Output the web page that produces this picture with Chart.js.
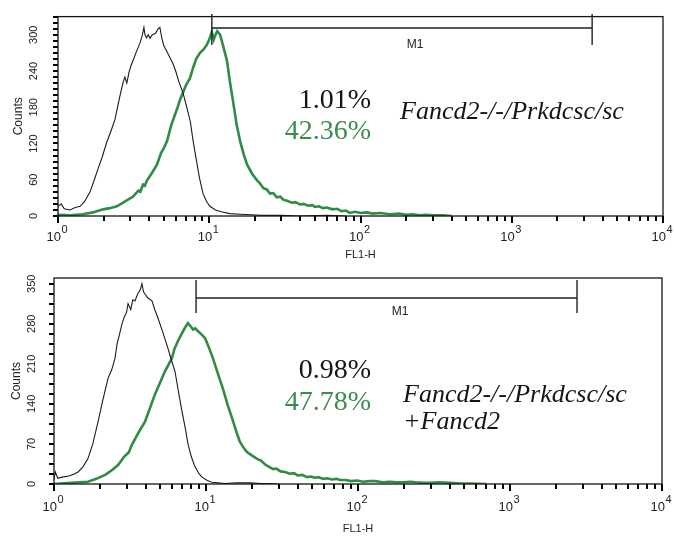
<!DOCTYPE html>
<html>
<head>
<meta charset="utf-8">
<script src="https://cdn.jsdelivr.net/npm/chart.js@4.4.1/dist/chart.umd.min.js"></script>
<style>
html, body { margin: 0; padding: 0; background: #fff; }
#wrap { position: relative; width: 674px; height: 536px; }
canvas { position: absolute; left: 0; }
</style>
</head>
<body>
<div id="wrap">
  <canvas id="topChart" width="674" height="262" style="top:0"></canvas>
  <canvas id="bottomChart" width="674" height="274" style="top:262px"></canvas>
</div>
<script>
// FL1-H channel values (x) and counts (y)
const topBlackX = [1.0, 1.05, 1.1, 1.2, 1.3, 1.4, 1.5, 1.63, 1.75, 1.85, 1.95, 2.1, 2.25, 2.38, 2.5, 2.6, 2.7, 2.77, 2.85, 2.95, 3.05, 3.13, 3.3, 3.48, 3.6, 3.7, 3.76, 3.85, 3.95, 4.06, 4.2, 4.4, 4.6, 4.72, 4.85, 5.0, 5.1, 5.3, 5.5, 5.76, 6.0, 6.3, 6.7, 7.1, 7.5, 7.8, 8.2, 8.6, 9.1, 9.6, 10.1, 11, 12, 13.7, 16, 19, 22, 30, 40, 60, 80];
const topBlackY = [16, 20, 12, 10, 14, 16, 24, 40, 62, 80, 96, 122, 142, 160, 185, 205, 222, 230, 220, 238, 250, 257, 272, 286, 298, 312, 300, 295, 300, 294, 300, 302, 310, 312, 295, 282, 278, 270, 262, 252, 240, 222, 204, 180, 156, 126, 94, 64, 37, 24, 16, 10, 7, 4, 3, 2, 1, 1, 0, 1, 0];

const topGreenX = [1.0, 1.2, 1.46, 1.7, 1.99, 2.2, 2.45, 2.7, 2.9, 3.13, 3.4, 3.5, 3.65, 3.75, 3.88, 4.2, 4.51, 4.8, 5.0, 5.26, 5.6, 5.9, 6.12, 6.4, 6.7, 7.0, 7.46, 7.81, 8.2, 8.69, 9.2, 9.67, 10.0, 10.4, 10.7, 11.0, 11.3, 11.8, 12.4, 13.1, 13.7, 14.4, 15.2, 16.0, 16.9, 17.8, 19.2, 20.7, 21.5, 22.8, 24, 25.2, 26.5, 28, 29.5, 30.8, 33, 35, 37, 39.8, 42, 45, 48, 50, 53, 56.5, 60, 65, 70, 75, 80, 85, 92, 100, 110, 120, 135, 157, 180, 200, 220, 247, 270, 300, 350, 400];
const topGreenY = [2, 1, 3, 6, 11, 13, 16, 22, 27, 32, 42, 40, 52, 50, 59, 72, 85, 104, 112, 124, 150, 166, 177, 192, 204, 216, 228, 245, 260, 270, 276, 284, 292, 305, 292, 300, 306, 300, 280, 257, 222, 188, 150, 124, 102, 85, 70, 59, 55, 46, 44, 37, 38, 31, 32, 27, 25, 22, 23, 19, 20, 17, 18, 15, 16, 13, 14, 11, 12, 8, 9, 5, 7, 5, 6, 4, 5, 3, 4, 2, 3, 1, 2, 1, 1, 0];

const bottomBlackX = [1.0, 1.02, 1.06, 1.13, 1.25, 1.35, 1.44, 1.55, 1.67, 1.8, 1.95, 2.1, 2.27, 2.4, 2.52, 2.6, 2.7, 2.8, 2.9, 3.0, 3.07, 3.2, 3.3, 3.41, 3.55, 3.7, 3.79, 3.88, 3.97, 4.15, 4.41, 4.6, 4.83, 5.2, 5.62, 5.9, 6.25, 6.6, 6.95, 7.3, 7.61, 8.0, 8.47, 9.0, 9.41, 10.2, 10.9, 12, 13.3, 16, 19.5, 23, 26.4, 30];
const bottomBlackY = [8, 21, 10, 12, 14, 17, 21, 30, 44, 70, 109, 148, 185, 200, 220, 245, 262, 280, 292, 300, 315, 305, 322, 320, 332, 340, 350, 336, 332, 325, 320, 305, 290, 265, 237, 218, 197, 160, 127, 98, 70, 48, 30, 18, 12, 6, 3, 2, 1, 2, 2, 1, 1, 0];

const bottomGreenX = [1.0, 1.3, 1.67, 1.9, 2.17, 2.4, 2.64, 2.9, 3.1, 3.26, 3.6, 3.97, 4.3, 4.62, 5.0, 5.37, 5.7, 5.97, 6.2, 6.54, 6.9, 7.27, 7.61, 7.9, 8.21, 8.5, 8.86, 9.3, 9.85, 10.4, 11.1, 11.9, 12.9, 13.9, 15.1, 15.9, 16.7, 17.6, 18.6, 20, 21.7, 23, 24.5, 26, 27.6, 29, 31, 33, 35.7, 38, 40, 43, 46.2, 49, 52, 55, 58.9, 63, 67, 72, 76.2, 83, 90, 99, 108, 120, 130, 145, 162, 180, 200, 220, 240, 270, 298, 340, 400, 470, 546, 700];
const bottomGreenY = [0, 2, 4, 9, 16, 24, 33, 48, 55, 69, 90, 109, 134, 157, 178, 197, 210, 220, 236, 250, 262, 273, 281, 276, 270, 272, 267, 262, 255, 240, 220, 195, 167, 138, 109, 90, 74, 64, 56, 50, 44, 41, 34, 30, 26, 27, 22, 21, 18, 19, 15, 16, 12, 13, 11, 12, 9, 10, 8, 9, 7, 7, 5, 6, 4, 5, 5, 3, 4, 3, 3, 4, 3, 2, 2, 3, 2, 1, 1, 0];

// M1 gate bounds and printed statistics
const topGate = [10.4, 3400];
const bottomGate = [8.6, 2760];
const topStats = ['1.01%', '42.36%'];
const bottomStats = ['0.98%', '47.78%'];
const topSample = ['Fancd2-/-/Prkdcsc/sc'];
const bottomSample = ['Fancd2-/-/Prkdcsc/sc', '+Fancd2'];

const decades = [0, 1, 2, 3, 4];

Chart.defaults.font.family = "'Liberation Sans', Arial, sans-serif";

const pts = (xs, ys) => xs.map((x, i) => ({ x: x, y: ys[i] }));

// 1..9 in every decade for the log ticks
const xTicks = [];
decades.forEach(k => {
	if (k === 4) { xTicks.push(10000); return; }
	for (let m = 1; m < 10; m++) xTicks.push(m * Math.pow(10, k));
});

const isDecade = v => Math.abs(Math.log10(v) - Math.round(Math.log10(v))) < 1e-9;

const histPlugin = {
	id: 'hist',
	afterDatasetsDraw(chart, args, o) {
		const { ctx, chartArea: a, scales: { x, y } } = chart;
		ctx.save();

		// tick marks, outside the frame
		ctx.fillStyle = '#000';
		xTicks.forEach(v => {
			const px = Math.round(x.getPixelForValue(v));
			ctx.fillRect(px - 1, a.bottom, 2, isDecade(v) ? 7 : 5);
		});
		for (let v = 0; v <= o.yMax; v += o.yStep) {
			const py = Math.round(y.getPixelForValue(v));
			ctx.fillRect(a.left - 5, py - 1, 5, 2);
		}

		// frame
		ctx.strokeStyle = '#151515';
		ctx.lineWidth = 1.3;
		ctx.strokeRect(a.left, a.top, a.right - a.left, a.bottom - a.top);

		// decade labels 10^k
		ctx.fillStyle = '#222';
		ctx.textBaseline = 'alphabetic';
		decades.forEach(k => {
			const px = x.getPixelForValue(Math.pow(10, k));
			ctx.font = "13px 'Liberation Sans', Arial";
			ctx.textAlign = 'right';
			ctx.fillText('10', px + 3, a.bottom + o.labelDrop);
			ctx.font = "11px 'Liberation Sans', Arial";
			ctx.textAlign = 'left';
			ctx.fillText(String(k), px + 3.5, a.bottom + o.labelDrop - 8);
		});

		// M1 marker
		const x1 = x.getPixelForValue(o.gate[0]), x2 = x.getPixelForValue(o.gate[1]);
		ctx.strokeStyle = '#222';
		ctx.lineWidth = 1.4;
		ctx.beginPath();
		ctx.moveTo(x1, o.gateY); ctx.lineTo(x2, o.gateY);
		ctx.moveTo(x1, o.gateY - o.gateTick[0]); ctx.lineTo(x1, o.gateY + o.gateTick[1]);
		ctx.moveTo(x2, o.gateY - o.gateTick[0]); ctx.lineTo(x2, o.gateY + o.gateTick[1]);
		ctx.stroke();
		ctx.font = "12px 'Liberation Sans', Arial";
		ctx.textAlign = 'center';
		ctx.textBaseline = 'middle';
		ctx.fillText('M1', o.m1At[0], o.m1At[1]);

		// percentages
		ctx.textBaseline = 'alphabetic';
		ctx.textAlign = 'right';
		ctx.font = "28px 'Liberation Serif', 'Times New Roman', serif";
		o.stats.forEach((t, i) => {
			ctx.fillStyle = i === 0 ? '#151515' : '#3c8c4f';
			ctx.fillText(t, o.statsAt[0], o.statsAt[1][i]);
		});

		// sample name
		ctx.textAlign = 'left';
		ctx.fillStyle = '#151515';
		ctx.font = "italic 26px 'Liberation Serif', 'Times New Roman', serif";
		o.sample.forEach((t, i) => {
			ctx.fillText(t, o.sampleAt[0], o.sampleAt[1][i]);
		});
		ctx.restore();
	}
};

function histChart(id, o) {
	return new Chart(document.getElementById(id), {
		type: 'line',
		data: {
			datasets: [
				{ data: pts(o.blackX, o.blackY), borderColor: '#1c1c1c', borderWidth: 1.1 },
				{ data: pts(o.greenX, o.greenY), borderColor: '#2f8c46', borderWidth: 2.6 }
			]
		},
		options: {
			responsive: false,
			animation: false,
			devicePixelRatio: 1,
			elements: { point: { radius: 0 }, line: { tension: 0 } },
			layout: { padding: { left: 0, right: o.padRight, top: o.padTop, bottom: 0 } },
			plugins: {
				legend: { display: false },
				tooltip: { enabled: false },
				hist: Object.assign({ yMax: o.yMax, yStep: o.yStep }, o.marks)
			},
			scales: {
				x: {
					type: 'logarithmic',
					min: 1,
					max: 10000,
					afterBuildTicks: s => { s.ticks = xTicks.map(v => ({ value: v })); },
					afterFit: s => { s.height = o.xHeight; },
					ticks: { display: false },
					grid: { drawOnChartArea: false, tickLength: 5, color: '#111' },
					border: { display: false },
					title: { display: true, text: 'FL1-H', color: '#222', font: { size: 11 }, padding: { top: o.xTitlePad, bottom: 0 } }
				},
				y: {
					min: 0,
					max: o.yMax,
					afterFit: s => { s.width = o.yWidth; },
					ticks: {
						stepSize: o.yStep,
						includeBounds: false,
						autoSkip: false,
						minRotation: 90,
						maxRotation: 90,
						crossAlign: 'center',
						padding: o.yTickPad,
						color: '#222',
						font: { size: 11 },
						callback: v => (v % o.yEvery === 0 ? String(v) : '')
					},
					grid: { drawOnChartArea: false, tickLength: 5, color: '#111' },
					border: { display: false },
					title: { display: true, text: 'Counts', color: '#222', font: { size: 12 }, padding: { top: o.yTitlePad, bottom: 0 } }
				}
			}
		},
		plugins: [histPlugin]
	});
}

histChart('topChart', {
	blackX: topBlackX, blackY: topBlackY, greenX: topGreenX, greenY: topGreenY,
	yMax: 330, yStep: 10, yEvery: 60,
	padTop: 10, padRight: 11, yWidth: 58, xHeight: 46,
	yTickPad: 10, yTitlePad: 11, xTitlePad: 7,
	marks: {
		gate: topGate, gateY: 28, gateTick: [14, 17], m1At: [415, 45], labelDrop: 25,
		stats: topStats, statsAt: [371, [108, 139]],
		sample: topSample, sampleAt: [400, [119]]
	}
});

histChart('bottomChart', {
	blackX: bottomBlackX, blackY: bottomBlackY, greenX: bottomGreenX, greenY: bottomGreenY,
	yMax: 360, yStep: 17.5, yEvery: 70,
	padTop: 16, padRight: 12, yWidth: 54, xHeight: 52,
	yTickPad: 8, yTitlePad: 9, xTitlePad: 7,
	marks: {
		gate: bottomGate, gateY: 36, gateTick: [18, 15], m1At: [400, 50], labelDrop: 27,
		stats: bottomStats, statsAt: [371, [116, 148]],
		sample: bottomSample, sampleAt: [403, [140, 167]]
	}
});
</script>
</body>
</html>
